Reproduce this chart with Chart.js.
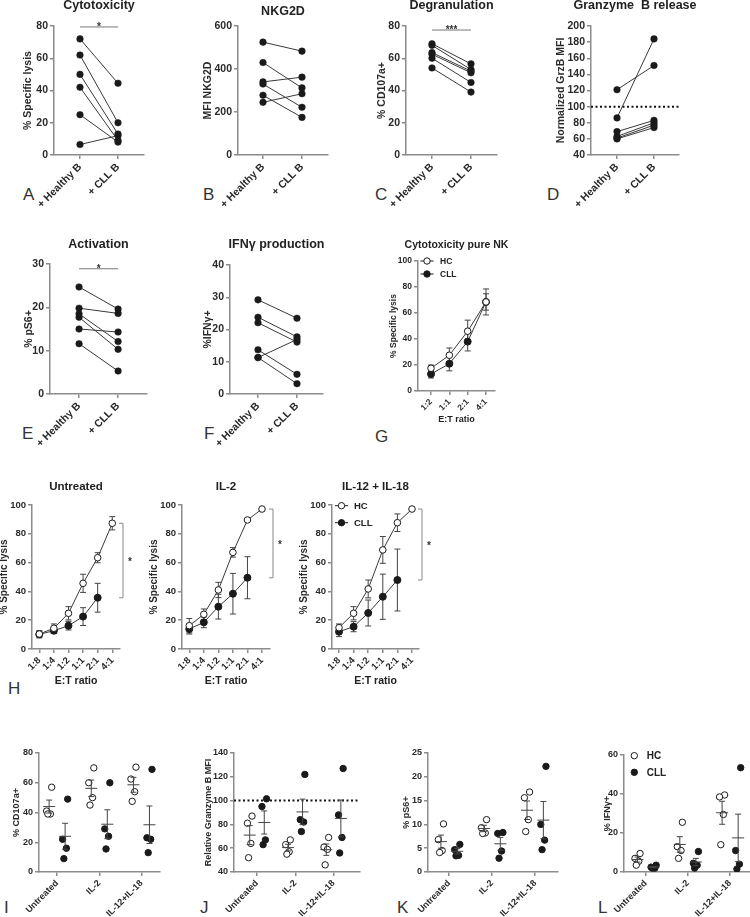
<!DOCTYPE html>
<html lang="en">
<head>
<meta charset="UTF-8">
<title>NK cell function against CLL B cells</title>
<style>
  body { margin: 0; background: #fff; }
  #fig { position: relative; width: 750px; height: 917px; overflow: hidden; font-family: 'Liberation Sans', Arial, sans-serif; }
  #fig canvas { position: absolute; }
  .lbl { position: absolute; font-size: 17px; line-height: 1; color: #333; }
</style>
<script src="https://cdn.jsdelivr.net/npm/chart.js"></script>
</head>
<body>
<div id="fig">
  <div class="lbl" style="left:23px;top:186px">A</div>
  <div class="lbl" style="left:203px;top:186px">B</div>
  <div class="lbl" style="left:375px;top:186px">C</div>
  <div class="lbl" style="left:547px;top:186px">D</div>
  <div class="lbl" style="left:22px;top:425px">E</div>
  <div class="lbl" style="left:204px;top:425px">F</div>
  <div class="lbl" style="left:375px;top:428px">G</div>
  <div class="lbl" style="left:8px;top:680px">H</div>
  <div class="lbl" style="left:4px;top:899px">I</div>
  <div class="lbl" style="left:200px;top:899px">J</div>
  <div class="lbl" style="left:397px;top:899px">K</div>
  <div class="lbl" style="left:598px;top:899px">L</div>
</div>
<script>
// paired donors, NK + healthy B vs NK + CLL B (panels A-F)
const pairCats = ['+ Healthy B', '+ CLL B'];
const cytoHealthy = [72, 62, 50, 42, 25, 6.5];
const cytoCLL = [44.5, 20, 13, 9, 8, 12];
const nkg2dHealthy = [525, 430, 340, 330, 278, 245];
const nkg2dCLL = [483, 312, 362, 222, 175, 285];
const degranHealthy = [69, 68, 63.5, 62.5, 60, 54];
const degranCLL = [56.5, 53, 52, 51, 45, 39];
const grzHealthy = [121, 86, 69, 63, 61, 60];
const grzCLL = [151, 184, 83, 80, 77, 74];
const pS6Healthy = [24.7, 19.8, 18.5, 17.7, 15, 11.6];
const pS6CLL = [19.6, 18.6, 12.1, 10.3, 14.3, 5.3];
const ifngHealthy = [29.2, 23.8, 22.1, 13.7, 11.3, 11.3];
const ifngCLL = [23.5, 17.7, 16.1, 6.1, 3.2, 16.9];

// G: pure NK cytotoxicity (mean, sem)
const ratiosG = ['1:2', '1:1', '2:1', '4:1'];
const pureHC = [17.5, 27.5, 46, 68.5];
const pureHCsem = [2.5, 5.6, 8.5, 10];
const pureCLL = [13, 21, 38, 68.5];
const pureCLLsem = [3, 5.5, 7.2, 6.3];

// H: cytotoxicity after stimulation
const ratiosH = ['1:8', '1:4', '1:2', '1:1', '2:1', '4:1'];
const untrHC = [10.4, 14.4, 24.8, 45.6, 63.4, 87.3];
const untrHCsem = [2, 3, 4.6, 6.3, 3.5, 4.6];
const untrCLL = [10.2, 12.7, 16.2, 22.5, 35.6];
const untrCLLsem = [2.5, 2, 3, 6.2, 10];
const il2HC = [16.2, 24.1, 41, 67.1, 89.6, 97.2];
const il2HCsem = [5, 3.7, 5.3, 3.3, 0, 0];
const il2CLL = [13.9, 18.5, 29.4, 38.4, 49.5];
const il2CLLsem = [3.5, 3.7, 8.6, 14.1, 14.6];
const il1218HC = [14.8, 24.8, 41.7, 68.8, 87.7, 97.2];
const il1218HCsem = [2.6, 4.6, 6.2, 9.3, 6.1, 0];
const il1218CLL = [12, 15.5, 25, 36.3, 47.9];
const il1218CLLsem = [3.4, 3.5, 9, 15.7, 21.5];

// I-L: per donor values by treatment
const treatments = ['Untreated', 'IL-2', 'IL-12+IL-18'];
const cd107HC = [[57, 41, 39, 39], [70, 60, 50, 45], [70.5, 62.5, 54, 47.5]];
const cd107CLL = [[49, 22, 16, 9], [60, 29, 24, 15.5], [69, 23, 22, 13]];
const grzRelHC = [[87, 81, 64, 52], [67, 63, 57, 55], [69, 61, 59, 46]];
const grzRelCLL = [[101.5, 95, 67, 63], [122, 84, 82, 74], [127, 88, 69, 56]];
const pS6TxHC = [[10.1, 6.8, 4.5, 4.1], [11, 9.3, 8.2, 8.1], [16.8, 15.6, 11, 8.5]];
const pS6TxCLL = [[5.8, 4.7, 3.5, 3.4], [8.3, 8.1, 4.4, 2.9], [22.2, 10, 6.7, 4.7]];
const ifngTxHC = [[9.5, 7, 5.5, 3.5], [25.5, 13, 11, 7], [39.5, 38.5, 29.5, 14]];
const ifngTxCLL = [[3.5, 2.5, 2, 2], [10.5, 4.5, 3.5, 2], [53.5, 11, 4, 1.5]];

const FONT = "'Liberation Sans', Arial, sans-serif";
Chart.defaults.font.family = FONT;
Chart.defaults.font.weight = 'bold';
Chart.defaults.color = '#2a2a2a';
const AX = '#8c8c8c', INK = '#1a1a1a', LINE = '#3a3a3a';
const fig = document.getElementById('fig');

const mean = a => a.reduce((s, v) => s + v, 0) / a.length;
const sem = a => { const m = mean(a); return Math.sqrt(a.reduce((s, v) => s + (v - m) ** 2, 0) / (a.length - 1) / a.length); };

// extra drawing: titles, error bars, significance marks, reference line, legend, mean +/- sem
function deco(o) {
  return {
    id: 'deco',
    beforeDatasetsDraw(chart) {
      if (!o.err) return;
      const { ctx, scales: { x, y } } = chart;
      ctx.save();
      ctx.strokeStyle = '#444';
      ctx.lineWidth = 1;
      o.err.forEach(([vals, e]) => vals.forEach((v, i) => {
        if (!e[i]) return;
        const px = x.getPixelForValue(i);
        const t = y.getPixelForValue(v + e[i]), b = y.getPixelForValue(v - e[i]);
        ctx.beginPath();
        ctx.moveTo(px, t); ctx.lineTo(px, b);
        ctx.moveTo(px - 3, t); ctx.lineTo(px + 3, t);
        ctx.moveTo(px - 3, b); ctx.lineTo(px + 3, b);
        ctx.stroke();
      }));
      ctx.restore();
    },
    afterDatasetsDraw(chart) {
      const { ctx, chartArea: ca, scales: { x, y } } = chart;
      ctx.save();
      if (o.sig) {
        const py = y.getPixelForValue(o.sig.y);
        const x1 = x.getPixelForValue(1), x2 = x.getPixelForValue(2);
        ctx.strokeStyle = '#777'; ctx.lineWidth = 1;
        ctx.beginPath(); ctx.moveTo(x1, py); ctx.lineTo(x2, py); ctx.stroke();
        ctx.fillStyle = '#333'; ctx.font = 'bold 10px ' + FONT;
        ctx.textAlign = 'center'; ctx.textBaseline = 'alphabetic';
        ctx.fillText(o.sig.text, (x1 + x2) / 2, py + 3);
      }
      if (o.ref) {
        const py = y.getPixelForValue(o.ref);
        ctx.strokeStyle = '#111'; ctx.lineWidth = 2; ctx.setLineDash([2, 2.5]);
        ctx.beginPath(); ctx.moveTo(ca.left, py); ctx.lineTo(ca.right, py); ctx.stroke();
        ctx.setLineDash([]);
      }
      if (o.bracket) {
        const [hc, cll] = o.bracket;
        const bx = ca.right + 3;
        const t = y.getPixelForValue(hc[hc.length - 1]), b = y.getPixelForValue(cll[cll.length - 1]);
        ctx.strokeStyle = '#888'; ctx.lineWidth = 1;
        ctx.beginPath();
        ctx.moveTo(bx - 4, t); ctx.lineTo(bx, t); ctx.lineTo(bx, b); ctx.lineTo(bx - 4, b);
        ctx.stroke();
        ctx.fillStyle = '#333'; ctx.font = 'bold 10px ' + FONT;
        ctx.textAlign = 'center'; ctx.textBaseline = 'middle';
        ctx.fillText('*', bx + 7, (t + b) / 2 + 2);
      }
      if (o.groups) {
        ctx.strokeStyle = '#444'; ctx.lineWidth = 1;
        o.groups.forEach(([grp, s]) => grp.forEach((vals, gi) => {
          const m = mean(vals), e = sem(vals);
          const px = x.getPixelForValue(gi + s);
          const pm = y.getPixelForValue(m), t = y.getPixelForValue(m + e), b = y.getPixelForValue(m - e);
          ctx.beginPath();
          ctx.moveTo(px - 6, pm); ctx.lineTo(px + 6, pm);
          ctx.moveTo(px, t); ctx.lineTo(px, b);
          ctx.moveTo(px - 3, t); ctx.lineTo(px + 3, t);
          ctx.moveTo(px - 3, b); ctx.lineTo(px + 3, b);
          ctx.stroke();
        }));
      }
      if (o.legend) {
        const L = o.legend;
        ctx.font = 'bold ' + L.size + 'px ' + FONT;
        ctx.textAlign = 'left'; ctx.textBaseline = 'middle';
        [['HC', true], ['CLL', false]].forEach(([txt, open], i) => {
          const cx = ca.left + L.dx, cy = ca.top + L.dy + i * L.gap;
          ctx.strokeStyle = INK; ctx.lineWidth = 1;
          if (L.line) { ctx.beginPath(); ctx.moveTo(cx - 6.5, cy); ctx.lineTo(cx + 6.5, cy); ctx.stroke(); }
          ctx.beginPath(); ctx.arc(cx, cy, 3.2, 0, Math.PI * 2);
          ctx.fillStyle = open ? '#fff' : INK; ctx.fill(); ctx.stroke();
          ctx.fillStyle = '#222';
          ctx.fillText(txt, cx + L.tx, cy + 0.5);
        });
      }
      ctx.restore();
    },
    afterDraw(chart) {
      const { ctx, chartArea: ca } = chart;
      ctx.save();
      ctx.fillStyle = '#222';
      ctx.textAlign = 'center';
      if (o.title) {
        ctx.font = 'bold ' + o.title.size + 'px ' + FONT;
        ctx.textBaseline = 'alphabetic';
        ctx.fillText(o.title.text, (ca.left + ca.right) / 2, o.title.base);
      }
      if (o.xTitle) {
        ctx.font = 'bold ' + o.xTitle.size + 'px ' + FONT;
        ctx.textBaseline = 'middle';
        ctx.fillText(o.xTitle.text, (ca.left + ca.right) / 2, ca.bottom + o.xTitle.dy);
      }
      ctx.restore();
    }
  };
}

function makePanel(g, datasets, o) {
  o = o || {};
  const left = Math.round(g.x0 - g.yw);
  const cvTop = Math.round(g.title ? Math.min(g.tB - g.tSize - 2, g.y0 - 10) : g.y0 - 10);
  const pr = g.pr || 12;
  const cv = document.createElement('canvas');
  const w = Math.round(g.x1 + pr - left), h = Math.round(g.y1 + g.xh - cvTop);
  cv.width = w;
  cv.height = h;
  cv.style.left = left + 'px';
  cv.style.top = cvTop + 'px';
  cv.style.width = w + 'px';
  cv.style.height = h + 'px';
  fig.appendChild(cv);
  if (g.title) o.title = { text: g.title, size: g.tSize, base: g.tB - cvTop };
  if (g.xTitle) o.xTitle = { text: g.xTitle, size: g.xtSize, dy: g.xtDy };
  const yw = g.x0 - left;
  const gridOpt = { drawOnChartArea: false, color: AX, lineWidth: 1.5, tickLength: 4 };
  new Chart(cv, {
    type: 'scatter',
    data: { datasets },
    options: {
      responsive: false, maintainAspectRatio: false, animation: false, devicePixelRatio: 1,
      layout: { padding: { top: g.y0 - cvTop, right: pr, left: 0, bottom: 0 } },
      plugins: { legend: { display: false }, tooltip: { enabled: false }, title: { display: false } },
      scales: {
        x: {
          type: 'linear', min: g.xmin, max: g.xmax, bounds: 'data',
          afterBuildTicks: a => { a.ticks = g.xLabels.map((_, i) => ({ value: g.xStart + i })); },
          afterFit: s => { s.height = g.xh; },
          ticks: { autoSkip: false, minRotation: 45, maxRotation: 45, padding: 2, font: { size: g.f }, callback: (v, i) => g.xLabels[i] },
          grid: gridOpt, border: { color: AX, width: 1.5 }
        },
        y: {
          min: g.ymin, max: g.ymax,
          afterFit: s => { s.width = yw; },
          ticks: { stepSize: g.step, padding: 2, font: { size: g.f } },
          grid: gridOpt, border: { color: AX, width: 1.5 },
          title: { display: true, text: g.yTitle, padding: 0, font: { size: g.ytSize, lineHeight: 1.2 } }
        }
      }
    },
    plugins: [deco(o)]
  });
}

function pairSets(h, c) {
  return h.map((v, i) => ({
    data: [{ x: 1, y: v }, { x: 2, y: c[i] }],
    showLine: true, borderColor: LINE, borderWidth: 1,
    pointRadius: 3.3, pointBackgroundColor: INK, pointBorderColor: INK, pointBorderWidth: 0.5
  }));
}
function ratioSet(vals, open) {
  return {
    data: vals.map((v, i) => ({ x: i, y: v })),
    showLine: true, borderColor: LINE, borderWidth: 1,
    pointRadius: open ? 3.3 : 3.5, pointBackgroundColor: open ? '#fff' : INK,
    pointBorderColor: INK, pointBorderWidth: 1
  };
}
const SIDE = 0.19, JIT = [0.06, -0.06, 0.03, -0.03];
function dotSet(groups, s, open) {
  const pts = [];
  groups.forEach((vals, gi) => vals.forEach((v, k) => pts.push({ x: gi + s + JIT[k], y: v })));
  return { data: pts, pointRadius: 3.2, pointBackgroundColor: open ? '#fff' : INK, pointBorderColor: INK, pointBorderWidth: 1 };
}

// top two rows
const pairRow = { xh: 55, tSize: 12.5, f: 10.5, ytSize: 10.5, xLabels: pairCats, xStart: 1 };
makePanel({ ...pairRow, x0: 54, y0: 26, x1: 144, y1: 155, yw: 32.3, tB: 9, title: 'Cytotoxicity', xmin: 0.316, xmax: 2.684, ymin: 0, ymax: 80, step: 20, yTitle: '% Specific lysis' },
  pairSets(cytoHealthy, cytoCLL), { sig: { y: 79.4, text: '*' } });
makePanel({ ...pairRow, x0: 238, y0: 26, x1: 328, y1: 155, yw: 35.6, tB: 14.5, title: 'NKG2D', xmin: 0.359, xmax: 2.667, ymin: 0, ymax: 600, step: 200, yTitle: 'MFI NKG2D' },
  pairSets(nkg2dHealthy, nkg2dCLL));
makePanel({ ...pairRow, x0: 406, y0: 26, x1: 497, y1: 155, yw: 30, tB: 8.5, title: 'Degranulation', xmin: 0.333, xmax: 2.667, ymin: 0, ymax: 80, step: 20, yTitle: '% CD107a+' },
  pairSets(degranHealthy, degranCLL), { sig: { y: 77.5, text: '***' } });
makePanel({ ...pairRow, x0: 591, y0: 26, x1: 679, y1: 155, yw: 36, pr: 40, tB: 8.5, title: 'Granzyme  B release', xmin: 0.297, xmax: 2.676, ymin: 40, ymax: 200, step: 20, yTitle: 'Normalized GrzB MFI' },
  pairSets(grzHealthy, grzCLL), { ref: 100 });
makePanel({ ...pairRow, x0: 50, y0: 264, x1: 147, y1: 394, yw: 27.3, tB: 248, title: 'Activation', xmin: 0.256, xmax: 2.74, ymin: 0, ymax: 30, step: 10, yTitle: '% pS6+' },
  pairSets(pS6Healthy, pS6CLL), { sig: { y: 28.9, text: '*' } });
makePanel({ ...pairRow, x0: 230, y0: 265, x1: 323, y1: 394, yw: 28, tB: 248, title: 'IFNγ production', xmin: 0.282, xmax: 2.667, ymin: 0, ymax: 40, step: 10, yTitle: '%IFNγ+' },
  pairSets(ifngHealthy, ifngCLL));
makePanel({ x0: 418, y0: 261, x1: 495, y1: 391, yw: 29.4, xh: 34, pr: 25, tB: 247.5, tSize: 10.5, title: 'Cytotoxicity pure NK', f: 8.5, ytSize: 8.5,
  xTitle: 'E:T ratio', xtSize: 9, xtDy: 29,
  xLabels: ratiosG, xStart: 0, xmin: -0.709, xmax: 3.49, ymin: 0, ymax: 100, step: 20, yTitle: '% Specific lysis' },
  [ratioSet(pureHC, true), ratioSet(pureCLL, false)],
  { err: [[pureHC, pureHCsem], [pureCLL, pureCLLsem]], legend: { dx: 9, dy: 0, gap: 13, tx: 13, size: 8.5, line: true } });

// row H
const hRow = { y0: 505, y1: 649, yw: 34, xh: 38, tB: 489.5, tSize: 11.5, f: 9.5, ytSize: 10, xTitle: 'E:T ratio', xtSize: 10.5, xtDy: 32,
  xLabels: ratiosH, xStart: 0, ymin: 0, ymax: 100, step: 20, yTitle: '% Specific lysis', pr: 20 };
makePanel({ ...hRow, x0: 32, x1: 120, title: 'Untreated', xmin: -0.5, xmax: 5.53 },
  [ratioSet(untrHC, true), ratioSet(untrCLL, false)],
  { err: [[untrHC, untrHCsem], [untrCLL, untrCLLsem]], bracket: [untrHC, untrCLL] });
makePanel({ ...hRow, x0: 182, x1: 270, title: 'IL-2', xmin: -0.5, xmax: 5.55 },
  [ratioSet(il2HC, true), ratioSet(il2CLL, false)],
  { err: [[il2HC, il2HCsem], [il2CLL, il2CLLsem]], bracket: [il2HC, il2CLL] });
makePanel({ ...hRow, x0: 332, x1: 419, title: 'IL-12 + IL-18', xmin: -0.48, xmax: 5.48 },
  [ratioSet(il1218HC, true), ratioSet(il1218CLL, false)],
  { err: [[il1218HC, il1218HCsem], [il1218CLL, il1218CLLsem]], bracket: [il1218HC, il1218CLL], legend: { dx: 9.5, dy: 0.7, gap: 17, tx: 12.5, size: 9.5, line: true } });

// bottom row I-L
const bRow = { y0: 753, y1: 872, xh: 45, f: 9, ytSize: 9, xLabels: treatments, xStart: 0 };
makePanel({ ...bRow, x0: 39, x1: 160, yw: 28.4, xmin: -0.43, xmax: 2.44, ymin: 0, ymax: 80, step: 20, yTitle: '% CD107a+' },
  [dotSet(cd107HC, -SIDE, true), dotSet(cd107CLL, SIDE, false)],
  { groups: [[cd107HC, -SIDE], [cd107CLL, SIDE]] });
makePanel({ ...bRow, x0: 234, x1: 360, yw: 31.4, xmin: -0.6, xmax: 2.69, ymin: 40, ymax: 140, step: 20, yTitle: 'Relative Granzyme B MFI' },
  [dotSet(grzRelHC, -SIDE, true), dotSet(grzRelCLL, SIDE, false)],
  { groups: [[grzRelHC, -SIDE], [grzRelCLL, SIDE]], ref: 100 });
makePanel({ ...bRow, x0: 428, x1: 558, yw: 27.4, xmin: -0.49, xmax: 2.53, ymin: 0, ymax: 25, step: 5, yTitle: '% pS6+' },
  [dotSet(pS6TxHC, -SIDE, true), dotSet(pS6TxCLL, SIDE, false)],
  { groups: [[pS6TxHC, -SIDE], [pS6TxCLL, SIDE]] });
makePanel({ ...bRow, y0: 755, x0: 624, x1: 750, yw: 22, xmin: -0.51, xmax: 2.47, ymin: 0, ymax: 60, step: 20, yTitle: '% IFNγ+' },
  [dotSet(ifngTxHC, -SIDE, true), dotSet(ifngTxCLL, SIDE, false)],
  { groups: [[ifngTxHC, -SIDE], [ifngTxCLL, SIDE]], legend: { dx: 10.3, dy: 0.7, gap: 16.6, tx: 12.4, size: 10, line: false } });
</script>
</body>
</html>
